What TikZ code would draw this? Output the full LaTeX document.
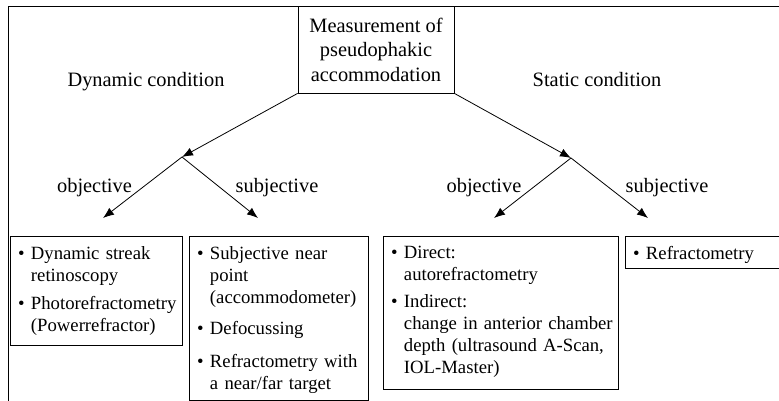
\documentclass[tikz,border=0pt]{standalone}
\usepackage{fontspec}
\setmainfont{Liberation Serif}
\usetikzlibrary{arrows.meta,calc}
\newlength\bulwd
\newcommand\mainsz{\fontsize{20.4}{24.5}\selectfont}
\newcommand\boxsz{\fontsize{18.7}{22}\selectfont}
\newcommand\bitem[1]{\settowidth\bulwd{\textbullet\ }\noindent\hangindent=\bulwd\hangafter=1 \textbullet\ #1\par}
\newcommand\igap[1]{\vspace{#1}}
\begin{document}
\begin{tikzpicture}[x=1pt,y=1pt,
  rule/.style={line width=0.8pt},
  rootbox/.style={draw, line width=0.8pt, minimum width=156pt, minimum height=86.5pt, inner sep=0pt, align=center, font=\mainsz},
  heading/.style={anchor=base, font=\mainsz, inner sep=0pt},
  branchlabel/.style={anchor=base, font=\mainsz, inner sep=0pt},
  listframe/.style={draw, line width=0.8pt, anchor=north west, inner sep=0pt},
  listtext/.style={anchor=north west, inner sep=0pt, align=left, font=\boxsz},
  arrowlink/.style={line width=0.8pt, -{Latex[length=11pt,width=8.5pt]}},
]
\useasboundingbox (0,0) rectangle (779,-401);
\draw[rule] (8,-405) -- (8,-6) -- (790,-6);

\node[rootbox] (root) at (376,-49.75) {Measurement of\\pseudophakic\\accommodation};

\node[heading] (dyn) at (146,-87) {Dynamic condition};
\node[heading] (stat) at (597,-87) {Static condition};

\coordinate (j1) at (182,-157);
\coordinate (j2) at (571,-158);
\coordinate (t11) at (103,-218);
\coordinate (t12) at (258,-218);
\coordinate (t21) at (494,-218);
\coordinate (t22) at (648,-218);

\draw[arrowlink] (root.south west) -- (j1);
\draw[arrowlink] (root.south east) -- (j2);
\draw[arrowlink] (j1) -- (t11);
\draw[arrowlink] (j1) -- (t12);
\draw[arrowlink] (j2) -- (t21);
\draw[arrowlink] (j2) -- (t22);

\node[branchlabel] (o1) at (94.5,-193) {objective};
\node[branchlabel] (s1) at (277,-193) {subjective};
\node[branchlabel] (o2) at (484,-193) {objective};
\node[branchlabel] (s2) at (667,-193) {subjective};

\node[listframe, minimum width=172pt, minimum height=109pt] (b1) at (10,-236) {};
\node[listtext, text width=165pt] (x1) at ($(b1.north west)+(8,-10)$)
  {\bitem{Dynamic streak\newline retinoscopy}\igap{6pt}\bitem{Photorefractometry\newline (Powerrefractor)}};

\node[listframe, minimum width=179pt, minimum height=164pt] (b2) at (189,-236) {};
\node[listtext, text width=170pt] (x2) at ($(b2.north west)+(8,-10)$)
  {\bitem{Subjective near\newline point\newline (accommodometer)}\igap{9pt}\bitem{Defocussing}\igap{11pt}\bitem{Refractometry with\newline a near/far target}};

\node[listframe, minimum width=235pt, minimum height=153pt] (b3) at (383,-236) {};
\node[listtext, text width=225pt] (x3) at ($(b3.north west)+(8,-10)$)
  {\bitem{Direct:\newline autorefractometry}\igap{5pt}\bitem{Indirect:\newline change in anterior chamber\newline depth (ultrasound A-Scan,\newline IOL-Master)}};

\node[listframe, minimum width=160pt, minimum height=32pt] (b4) at (625,-236) {};
\node[listtext, text width=145pt] (x4) at ($(b4.north west)+(8,-10)$)
  {\bitem{Refractometry}};
\end{tikzpicture}
\end{document}
